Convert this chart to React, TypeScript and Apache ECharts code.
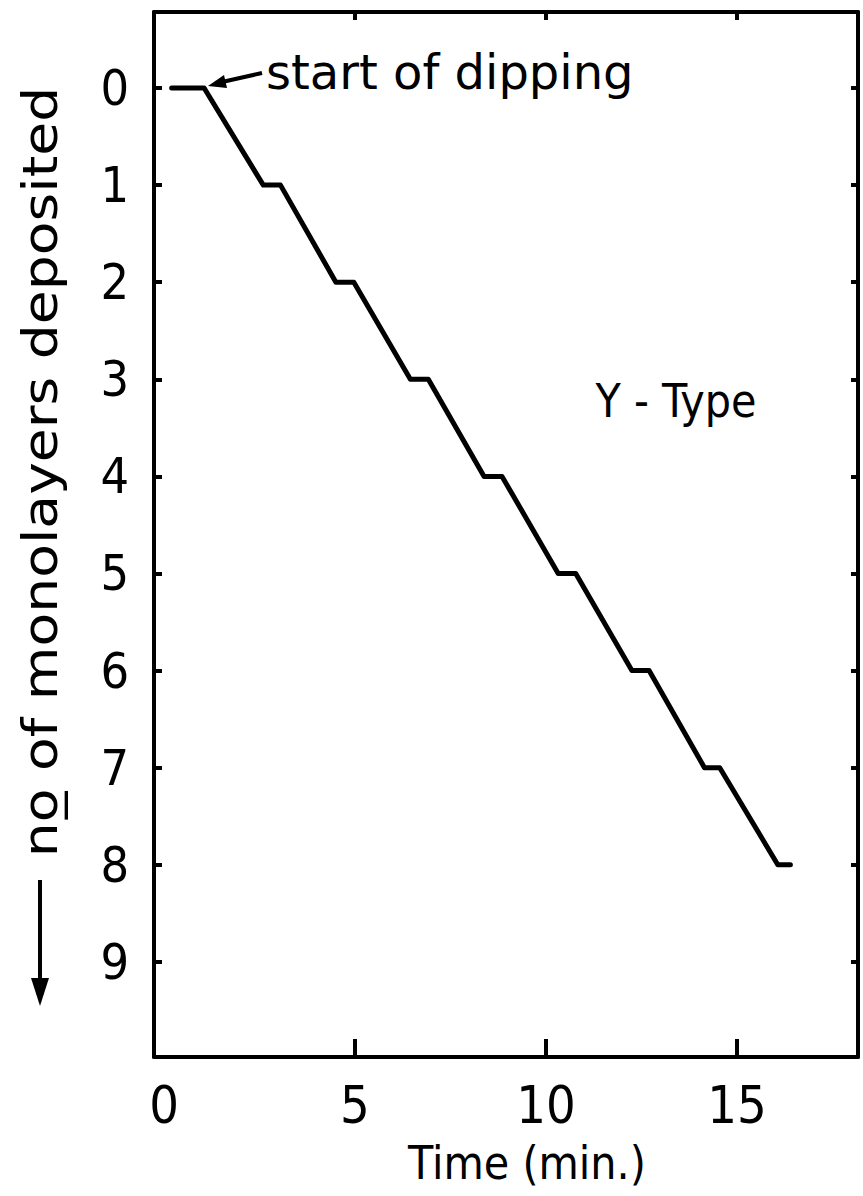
import React, { useEffect, useRef } from "react";
import * as echarts from "echarts";

const timeMin = [0.2, 1.05, 2.6, 3.05, 4.5, 4.97, 6.45, 6.92, 8.38, 8.85, 10.32, 10.78, 12.25, 12.7, 14.15, 14.55, 16.07, 16.4];
const layers = [0, 0, 1, 1, 2, 2, 3, 3, 4, 4, 5, 5, 6, 6, 7, 7, 8, 8];
const xTickLabels = [0, 5, 10, 15];
const xTicks = [5, 10, 15];
const yTickLabels = [0, 1, 2, 3, 4, 5, 6, 7, 8, 9];

const FONT = "'DejaVu Sans', sans-serif";
const NARROW = "'DejaVu Sans Condensed', 'DejaVu Sans', sans-serif";
const INK = "#000";

export default function App() {
  const ref = useRef<HTMLDivElement>(null);
  useEffect(() => {
    document.body.style.margin = "0";
    const chart = echarts.init(ref.current!, null, { renderer: "svg" });
    const lineStyle = { color: INK, width: 4 };
    chart.setOption({
      animation: false,
      backgroundColor: "#fff",
      grid: { left: 154, right: 5, top: 12, bottom: 139 },
      xAxis: [
        {
          type: "value",
          min: -0.262,
          max: 18.17,
          position: "bottom",
          splitLine: { show: false },
          axisLine: { show: true, onZero: false, lineStyle },
          axisTick: { show: true, inside: true, length: 18, lineStyle, customValues: xTicks },
          axisLabel: {
            show: true,
            customValues: xTickLabels,
            margin: 22,
            color: INK,
            fontSize: 52,
            fontFamily: NARROW,
          },
        },
        {
          type: "value",
          min: -0.262,
          max: 18.17,
          position: "top",
          splitLine: { show: false },
          axisLine: { show: true, onZero: false, lineStyle },
          axisTick: { show: true, inside: true, length: 8, lineStyle, customValues: xTicks },
          axisLabel: { show: false },
        },
      ],
      yAxis: [
        {
          type: "value",
          inverse: true,
          min: -0.783,
          max: 9.98,
          position: "left",
          splitLine: { show: false },
          axisLine: { show: true, onZero: false, lineStyle },
          axisTick: { show: true, inside: true, length: 8, lineStyle, customValues: yTickLabels },
          axisLabel: {
            show: true,
            customValues: yTickLabels,
            margin: 25,
            color: INK,
            fontSize: 50,
            fontFamily: NARROW,
          },
        },
        {
          type: "value",
          inverse: true,
          min: -0.783,
          max: 9.98,
          position: "right",
          splitLine: { show: false },
          axisLine: { show: true, onZero: false, lineStyle },
          axisTick: { show: true, inside: true, length: 7, lineStyle, customValues: yTickLabels },
          axisLabel: { show: false },
        },
      ],
      series: [
        {
          type: "line",
          xAxisIndex: 0,
          yAxisIndex: 0,
          data: timeMin.map((t, i) => [t, layers[i]]),
          showSymbol: false,
          symbol: "none",
          lineStyle: { color: INK, width: 5, cap: "round", join: "round" },
        },
      ],
      graphic: [
        {
          type: "text",
          x: 266,
          y: 72,
          style: { text: "start of dipping", fill: INK, fontSize: 48, fontFamily: FONT, align: "left", verticalAlign: "middle" },
        },
        {
          type: "line",
          shape: { x1: 262, y1: 73, x2: 222, y2: 82 },
          style: { stroke: INK, lineWidth: 4 },
        },
        {
          type: "polygon",
          shape: { points: [[208, 86], [224, 75], [227, 88]] },
          style: { fill: INK },
        },
        {
          type: "text",
          x: 676,
          y: 401,
          style: { text: "Y - Type", fill: INK, fontSize: 46, fontFamily: NARROW, align: "center", verticalAlign: "middle" },
        },
        {
          type: "text",
          x: 40,
          y: 472,
          rotation: Math.PI / 2,
          scaleX: 1.15,
          style: {
            text: "n\u006F\u0332 of monolayers deposited",
            fill: INK,
            fontSize: 48,
            fontFamily: FONT,
            align: "center",
            verticalAlign: "middle",
          },
        },
        {
          type: "line",
          shape: { x1: 40, y1: 880, x2: 40, y2: 990 },
          style: { stroke: INK, lineWidth: 4 },
        },
        {
          type: "polygon",
          shape: { points: [[40, 1006], [31, 978], [49, 978]] },
          style: { fill: INK },
        },
        {
          type: "text",
          x: 527,
          y: 1163,
          style: { text: "Time (min.)", fill: INK, fontSize: 46, fontFamily: NARROW, align: "center", verticalAlign: "middle" },
        },
      ],
    });
    return () => chart.dispose();
  }, []);
  return <div ref={ref} style={{ width: 863, height: 1196 }} />;
}
